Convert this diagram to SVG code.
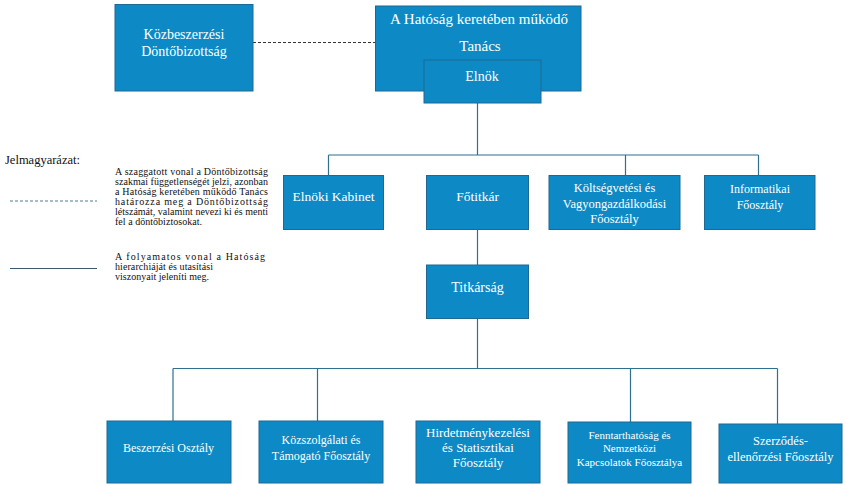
<svg xmlns="http://www.w3.org/2000/svg" width="846" height="486" viewBox="0 0 846 486">
<style>
.box{fill:#0D8AC5;stroke:#1F6894;stroke-width:1}
.t{font-family:"Liberation Serif","Times New Roman","DejaVu Serif",serif;fill:#ffffff;text-anchor:middle}
.conn{fill:none;stroke:#2F6F8F;stroke-width:1.2}
.lg{font-family:"Liberation Serif","Times New Roman","DejaVu Serif",serif;fill:#111111}
</style>
<rect width="846" height="486" fill="#ffffff"/>
<g id="connectors">
<line x1="253" y1="42.5" x2="375" y2="42.5" stroke="#333333" stroke-width="1" stroke-dasharray="3,2"/>
<path class="conn" d="M477.5,103 V155 M328.5,155 H758.5 M328.5,155 V176 M625.5,155 V175 M758.5,155 V175 M477.5,229 V265 M477.5,318 V368.5 M173,368.5 H777.5 M173,368.5 V421 M317.5,368.5 V421 M630.5,368.5 V422 M777.5,368.5 V424"/>
</g>
<g id="kozbeszerzesi">
<rect class="box" x="115" y="4.5" width="138" height="86.5"/>
<text class="t" font-size="14" x="184" y="39">Közbeszerzési</text>
<text class="t" font-size="14" x="184" y="55.5">Döntőbizottság</text>
</g>
<g id="tanacs">
<rect class="box" x="375.5" y="6" width="205.5" height="85"/>
<text class="t" font-size="15" x="479" y="24">A Hatóság keretében működő</text>
<text class="t" font-size="15" x="480" y="51">Tanács</text>
</g>
<g id="elnok">
<rect class="box" x="424" y="60" width="117" height="43"/>
<text class="t" font-size="14" x="482" y="81">Elnök</text>
</g>
<g id="elnoki-kabinet">
<rect class="box" x="283.5" y="175.5" width="100" height="54"/>
<text class="t" font-size="13.5" x="333.5" y="201">Elnöki Kabinet</text>
</g>
<g id="fotitkar">
<rect class="box" x="426.5" y="175.5" width="102" height="54"/>
<text class="t" font-size="13.5" x="477.5" y="201">Főtitkár</text>
</g>
<g id="koltsegvetesi">
<rect class="box" x="549" y="175.5" width="131" height="54"/>
<text class="t" font-size="12.5" x="614.5" y="192">Költségvetési és</text>
<text class="t" font-size="12.5" x="614.5" y="207.5">Vagyongazdálkodási</text>
<text class="t" font-size="12.5" x="614.5" y="223">Főosztály</text>
</g>
<g id="informatikai">
<rect class="box" x="704.5" y="175.5" width="110.5" height="54"/>
<text class="t" font-size="12" x="760" y="193">Informatikai</text>
<text class="t" font-size="12" x="760" y="208.5">Főosztály</text>
</g>
<g id="titkarsag">
<rect class="box" x="426.5" y="265" width="102" height="53.5"/>
<text class="t" font-size="14" x="477.5" y="292">Titkárság</text>
</g>
<g id="beszerzesi">
<rect class="box" x="107" y="421" width="124" height="62"/>
<text class="t" font-size="12" x="168.5" y="452">Beszerzési Osztály</text>
</g>
<g id="kozszolgalati">
<rect class="box" x="259" y="421" width="124" height="62"/>
<text class="t" font-size="12" x="321" y="444">Közszolgálati és</text>
<text class="t" font-size="12" x="321" y="459.5">Támogató Főosztály</text>
</g>
<g id="hirdetmeny">
<rect class="box" x="416" y="421" width="124" height="62"/>
<text class="t" font-size="13" x="478" y="437">Hirdetménykezelési</text>
<text class="t" font-size="13" x="478" y="452">és Statisztikai</text>
<text class="t" font-size="13" x="478" y="467">Főosztály</text>
</g>
<g id="fenntarthatosag">
<rect class="box" x="568" y="422" width="123" height="61"/>
<text class="t" font-size="11" x="629.5" y="438.5">Fenntarthatóság és</text>
<text class="t" font-size="11" x="629.5" y="452">Nemzetközi</text>
<text class="t" font-size="11" x="629.5" y="466">Kapcsolatok Főosztálya</text>
</g>
<g id="szerzodes">
<rect class="box" x="719" y="424" width="123" height="59"/>
<text class="t" font-size="12.5" x="780.5" y="445">Szerződés-</text>
<text class="t" font-size="12.5" x="780.5" y="461">ellenőrzési Főosztály</text>
</g>
<g id="legend">
<text class="lg" font-size="12.5" x="5" y="164">Jelmagyarázat:</text>
<line x1="10" y1="201" x2="97" y2="201" stroke="#4E7A8E" stroke-width="1" stroke-dasharray="3,2"/>
<line x1="10" y1="268.5" x2="97" y2="268.5" stroke="#3A5870" stroke-width="1.2"/>
<text class="lg" font-size="10" x="115" y="175" textLength="153" lengthAdjust="spacing">A szaggatott vonal a Döntőbizottság</text>
<text class="lg" font-size="10" x="115" y="185" textLength="153" lengthAdjust="spacing">szakmai függetlenségét jelzi, azonban</text>
<text class="lg" font-size="10" x="115" y="195" textLength="153" lengthAdjust="spacing">a Hatóság keretében működő Tanács</text>
<text class="lg" font-size="10" x="115" y="205" textLength="153" lengthAdjust="spacing">határozza meg a Döntőbizottság</text>
<text class="lg" font-size="10" x="115" y="215" textLength="153" lengthAdjust="spacing">létszámát, valamint nevezi ki és menti</text>
<text class="lg" font-size="10" x="115" y="225" textLength="87" lengthAdjust="spacing">fel a döntőbiztosokat.</text>
<text class="lg" font-size="10" x="115" y="260" textLength="150" lengthAdjust="spacing">A folyamatos vonal a Hatóság</text>
<text class="lg" font-size="10" x="115" y="270" textLength="98" lengthAdjust="spacing">hierarchiáját és utasítási</text>
<text class="lg" font-size="10" x="115" y="280" textLength="94" lengthAdjust="spacing">viszonyait jeleníti meg.</text>
</g>
</svg>
